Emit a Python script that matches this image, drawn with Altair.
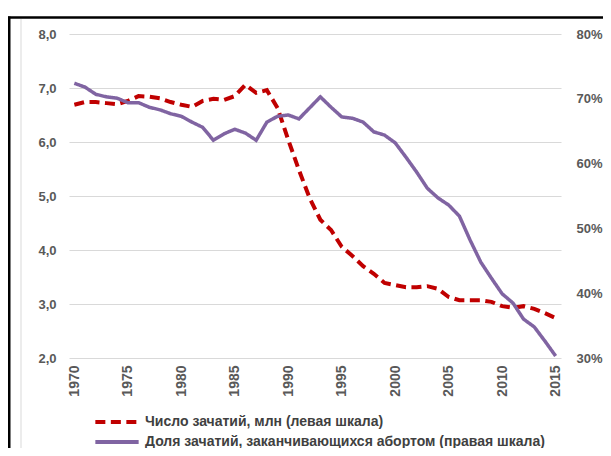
import altair as alt
import pandas as pd

years = list(range(1970, 2016))

conceptions_mln = [
    6.69, 6.74, 6.74, 6.72, 6.70, 6.76, 6.85, 6.84, 6.81, 6.74,
    6.69, 6.65, 6.76, 6.80, 6.78, 6.85, 7.06, 6.91, 6.96, 6.63,
    6.04, 5.48, 4.96, 4.56, 4.37, 4.06, 3.89, 3.70, 3.56, 3.39,
    3.35, 3.31, 3.31, 3.33, 3.28, 3.13, 3.07, 3.07, 3.07, 3.04,
    2.96, 2.93, 2.96, 2.91, 2.83, 2.74,
]

abortion_share = [
    0.724, 0.718, 0.707, 0.703, 0.701, 0.694, 0.694, 0.687, 0.683, 0.677,
    0.673, 0.664, 0.656, 0.636, 0.646, 0.653, 0.647, 0.636, 0.664, 0.673,
    0.675, 0.669, 0.686, 0.703, 0.687, 0.672, 0.670, 0.664, 0.649, 0.644,
    0.632, 0.610, 0.587, 0.562, 0.547, 0.536, 0.519, 0.482, 0.448, 0.423,
    0.399, 0.385, 0.360, 0.348, 0.326, 0.303,
]

series_names = [
    "Число зачатий, млн (левая шкала)",
    "Доля зачатий, заканчивающихся абортом (правая шкала)",
]
series_colors = ["#c00000", "#8064a2"]
series_dash = [[10, 5.5], [1, 0]]

left_ticks = [2, 3, 4, 5, 6, 7, 8]
right_ticks = [0.3, 0.4, 0.5, 0.6, 0.7, 0.8]
x_ticks = [1970, 1975, 1980, 1985, 1990, 1995, 2000, 2005, 2010, 2015]

FONT = "Liberation Sans"
GREY = "#595959"

df = pd.DataFrame(
    {
        "year": years * 2,
        "value": conceptions_mln + abortion_share,
        "series": [series_names[0]] * len(years) + [series_names[1]] * len(years),
    }
)

x_enc = alt.X(
    "year:Q",
    scale=alt.Scale(domain=[1969.5, 2015.5], nice=False, zero=False),
    axis=alt.Axis(
        values=x_ticks,
        format="d",
        title=None,
        labelAngle=270,
        labelPadding=7,
        ticks=False,
        domain=False,
        grid=False,
        labelFont=FONT,
        labelFontWeight="bold",
        labelFontSize=14,
        labelColor=GREY,
    ),
)

# wide horizontal line symbol; path is scaled by sqrt(symbolSize)/2
color_enc = alt.Color(
    "series:N",
    scale=alt.Scale(domain=series_names, range=series_colors),
    legend=alt.Legend(
        title=None,
        orient="none",
        legendX=37,
        legendY=377,
        direction="vertical",
        symbolType="M-2.5,0H2.5",
        symbolSize=300,
        symbolStrokeWidth=4,
        labelFont=FONT,
        labelFontSize=14,
        labelFontWeight="bold",
        labelColor="#404040",
        labelLimit=600,
        labelOffset=17,
        rowPadding=1,
        padding=0,
    ),
)
dash_enc = alt.StrokeDash(
    "series:N",
    scale=alt.Scale(domain=series_names, range=series_dash),
    legend=None,
)

base = alt.Chart(df)

left = (
    base.transform_filter(alt.datum.series == series_names[0])
    .mark_line(strokeWidth=4)
    .encode(
        x=x_enc,
        y=alt.Y(
            "value:Q",
            scale=alt.Scale(domain=[2, 8], nice=False, zero=False),
            axis=alt.Axis(
                values=left_ticks,
                labelExpr="replace(format(datum.value, '.1f'), '.', ',')",
                title=None,
                orient="left",
                ticks=False,
                domain=False,
                grid=True,
                gridColor="#d9d9d9",
                gridWidth=1,
                labelPadding=13,
                labelFont=FONT,
                labelFontWeight="bold",
                labelFontSize=13,
                labelColor=GREY,
            ),
        ),
        color=color_enc,
        strokeDash=dash_enc,
    )
)

right = (
    base.transform_filter(alt.datum.series == series_names[1])
    .mark_line(strokeWidth=3.5)
    .encode(
        x=x_enc,
        y=alt.Y(
            "value:Q",
            scale=alt.Scale(domain=[0.3, 0.8], nice=False, zero=False),
            axis=alt.Axis(
                values=right_ticks,
                format=".0%",
                title=None,
                orient="right",
                ticks=False,
                domain=False,
                grid=False,
                labelPadding=15,
                labelFont=FONT,
                labelFontWeight="bold",
                labelFontSize=13,
                labelColor=GREY,
            ),
        ),
        color=color_enc,
        strokeDash=dash_enc,
    )
)

one = pd.DataFrame({"k": [0]})
frame_top = alt.Chart(one).mark_rule(color="black", strokeWidth=2.5).encode(
    x=alt.value(-61), x2=alt.value(545), y=alt.value(-16.5)
)
frame_left = alt.Chart(one).mark_rect(color="black", opacity=1).encode(
    x=alt.value(-61), x2=alt.value(-58.5), y=alt.value(-17.5), y2=alt.value(420)
)
frame_inner = alt.Chart(one).mark_rect(color="#d9d9d9", opacity=1).encode(
    x=alt.value(-48.5), x2=alt.value(-47.5), y=alt.value(-15), y2=alt.value(420)
)

chart = (
    alt.layer(left, right, frame_top, frame_left, frame_inner)
    .resolve_scale(y="independent")
    .properties(
        width=492,
        height=324,
        autosize=alt.AutoSizeParams(type="none"),
        padding={"left": 61, "top": 26, "right": 42, "bottom": 90},
        background="white",
    )
    .configure_view(stroke=None)
)

chart.save("out.html", embed_options={"renderer": "svg", "actions": False})
